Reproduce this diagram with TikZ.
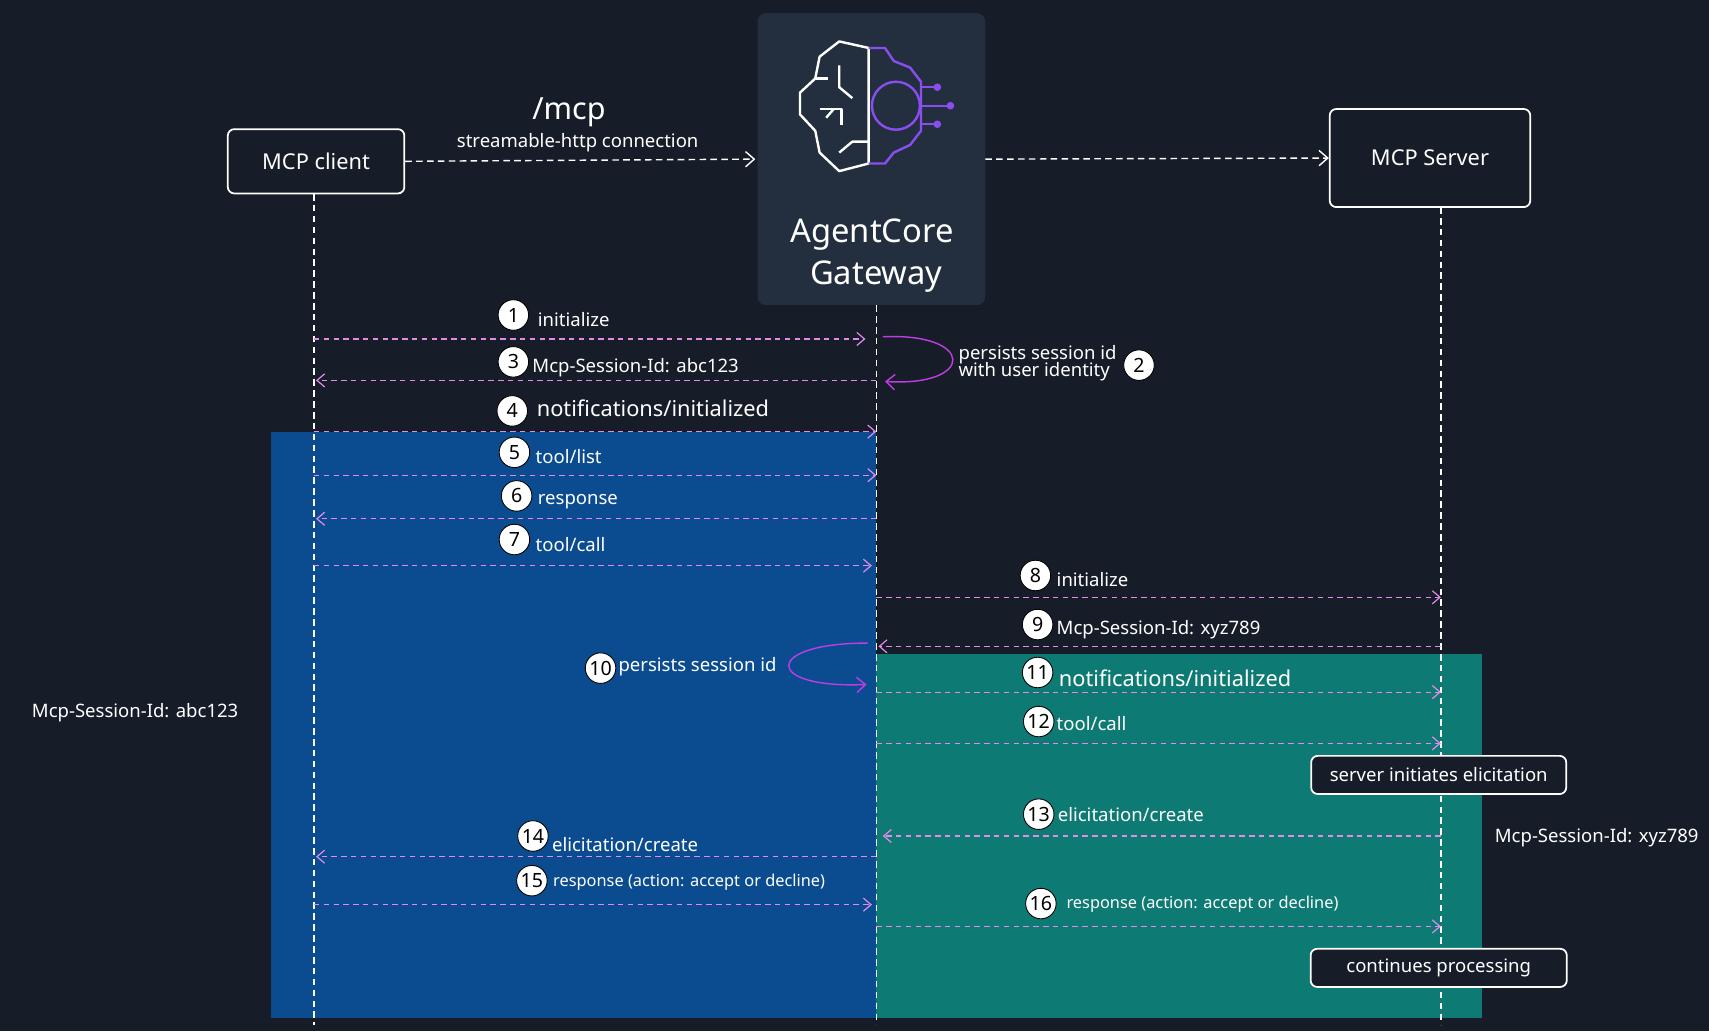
\documentclass[tikz,border=0pt]{standalone}
\usepackage{fontspec}
\setmainfont{Noto Sans}
\usetikzlibrary{arrows.meta}
\definecolor{bg}{HTML}{161C28}
\definecolor{gw}{HTML}{232F3E}
\definecolor{blu}{HTML}{0A4C8F}
\definecolor{teal}{HTML}{0D7A74}
\definecolor{pink}{HTML}{E58AEA}
\definecolor{mag}{HTML}{C03CE6}
\definecolor{purp}{HTML}{8A4DF0}
\begin{document}
\begin{tikzpicture}[x=1pt,y=-1pt,
 box/.style={draw=white,line width=1.6pt,rounded corners=6pt,fill=bg,text=white,font=\fontsize{20}{22}\selectfont},
 life/.style={draw=white,dashed,line width=1.3pt,dash pattern=on 6pt off 4pt},
 msg/.style={draw=pink,line width=1.1pt,dash pattern=on 5pt off 4pt,-{Straight Barb[length=7pt,width=12pt]}},
 num/.style={circle,fill=white,draw=black,line width=.8pt,minimum size=28pt,inner sep=0pt,font=\fontsize{18}{18}\selectfont,text=black},
 lab/.style={anchor=west,text=white,font=\fontsize{17}{19}\selectfont},
 big/.style={anchor=west,text=white,font=\fontsize{20}{22}\selectfont},
 sml/.style={anchor=west,text=white,font=\fontsize{15}{17}\selectfont},
 loop/.style={draw=mag,line width=1.3pt,-{Straight Barb[length=8pt,width=14pt]}}]
\fill[bg] (0,0) rectangle (1568,946);
\useasboundingbox (0,0) rectangle (1568,946);
\fill[blu] (249,396) rectangle (804,934);
\fill[teal] (804,600) rectangle (1360,934);
% boxes
\node[box,minimum width=162pt,minimum height=59pt] (client) at (290,148) {MCP client};
\node[box,minimum width=184pt,minimum height=90pt] (server) at (1312,145) {MCP Server};
\fill[gw,rounded corners=8pt] (695,12) rectangle (904,280);
\node[text=white,font=\fontsize{30}{32}\selectfont] (gwt1) at (800,215) {AgentCore};
\node[text=white,font=\fontsize{30}{32}\selectfont] (gwt2) at (804,254) {Gateway};
% icon
\begin{scope}[line width=2.2pt,white,line join=round]
\draw (770,38) -- (797,44) -- (797,150) -- (770,157) -- (752,140) -- (748,120) -- (734,105) -- (734,85) -- (748,72) -- (752,52) -- cycle;
\draw (770,60)--(770,80)--(782,90); \draw (752,100)--(772,100)--(772,115); \draw (765,100)--(758,108);
\draw (770,140)--(782,130)--(797,130); \draw (748,72)--(760,72);
\end{scope}
\begin{scope}[purp,line width=2.2pt]
\draw (797,44) -- (812,44) -- (820,56) -- (835,62) -- (845,75) -- (845,120) -- (835,133) -- (820,140) -- (812,150) -- (797,150);
\draw (822,97) circle (22);
\draw (845,80)--(860,80); \draw (845,97)--(870,97); \draw (845,114)--(860,114);
\fill (860,80) circle (3.5); \fill (872,97) circle (3.5); \fill (860,114) circle (3.5);
\end{scope}
% lifelines
\draw[life] (288,178) -- (288,940);
\draw[life] (804,280) -- (804,940);
\draw[life] (1322,190) -- (1322,940);
% top connections
\draw[life,-{Straight Barb[length=8pt,width=14pt]}] (client.east) -- (693,146);
\draw[life,-{Straight Barb[length=8pt,width=14pt]}] (904,146) -- (server.west);
\node[text=white,font=\fontsize{28}{30}\selectfont] (mcp) at (522,103) {/mcp};
\node[text=white,font=\fontsize{17}{19}\selectfont] (shc) at (530,131) {streamable-http connection};
% messages
\draw[msg] (288,311) -- (794,311); \node[num] (n1) at (471,289) {1}; \node[lab] at (490,293) {initialize};
\draw[loop] (810,309) .. controls (895,305) and (895,355) .. (812,350);
\node[lab,align=left] at (876,333) {persists session id\\[-3pt]with user identity};
\node[num] (n2) at (1045,335) {2};
\draw[msg] (804,349) -- (290,349); \node[num] (n3) at (471,332) {3}; \node[lab] at (485,337) {Mcp-Session-Id: abc123};
\draw[msg] (288,396) -- (804,396); \node[num] (n4) at (470,377) {4}; \node[big] at (489,375) {notifications/initialized};
\draw[msg] (288,436) -- (804,436); \node[num] (n5) at (472,415) {5}; \node[lab] at (488,419) {tool/list};
\draw[msg] (804,476) -- (290,476); \node[num] (n6) at (474,455) {6}; \node[lab] at (490,460) {response};
\draw[msg] (288,519) -- (800,519); \node[num] (n7) at (472,495) {7}; \node[lab] at (488,500) {tool/call};
\draw[msg] (804,548) -- (1322,548); \node[num] (n8) at (950,528) {8}; \node[lab] at (966,532) {initialize};
\draw[msg] (1322,593) -- (806,593); \node[num] (n9) at (952,573) {9}; \node[lab] at (966,578) {Mcp-Session-Id: xyz789};
\draw[loop] (796,590) .. controls (700,590) and (700,632) .. (795,628);
\node[num] (n10) at (551,613) {10}; \node[lab] at (564,612) {persists session id};
\draw[msg] (804,635) -- (1322,635); \node[num] (n11) at (952,617) {11}; \node[big] at (968,622) {notifications/initialized};
\draw[msg] (804,682) -- (1322,682); \node[num] (n12) at (953,662) {12}; \node[lab] at (966,664) {tool/call};
\node[box,font=\fontsize{17}{19}\selectfont,minimum width=234pt,minimum height=35pt] (sie) at (1320,711) {server initiates elicitation};
\draw[msg] (1322,767) -- (810,767); \node[num] (n13) at (953,747) {13}; \node[lab] at (967,747) {elicitation/create};
\draw[msg] (804,786) -- (290,786); \node[num] (n14) at (489,767) {14}; \node[lab] at (503,775) {elicitation/create};
\draw[msg] (288,830) -- (800,830); \node[num] (n15) at (488,808) {15}; \node[sml] at (504,809) {response (action: accept or decline)};
\draw[msg] (804,850) -- (1322,850); \node[num] (n16) at (955,829) {16}; \node[sml] at (975,830) {response (action: accept or decline)};
\node[box,font=\fontsize{17}{19}\selectfont,minimum width=235pt,minimum height=35pt] (cp) at (1320,888) {continues processing};
\node[text=white,font=\fontsize{17}{19}\selectfont] (s1) at (124,654) {Mcp-Session-Id: abc123};
\node[text=white,font=\fontsize{17}{19}\selectfont] (s2) at (1465,769) {Mcp-Session-Id: xyz789};
\end{tikzpicture}
\end{document}
